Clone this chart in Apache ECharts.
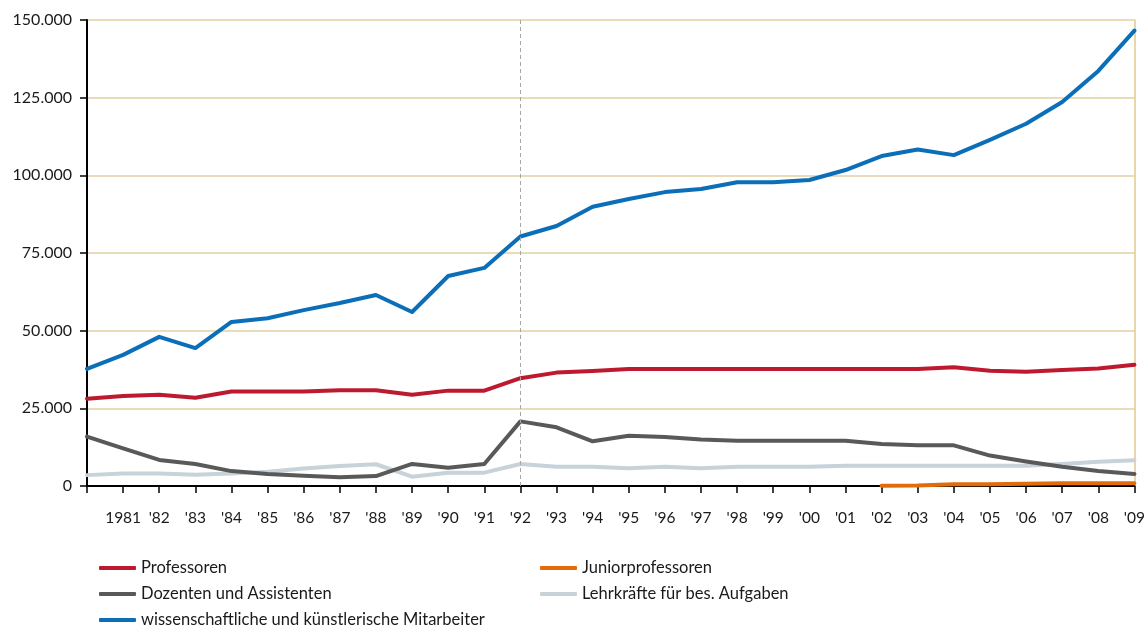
<!DOCTYPE html>
<html>
<head>
<meta charset="utf-8">
<script src="https://cdn.jsdelivr.net/npm/echarts@6/dist/echarts.min.js"></script>
<style>
  html, body { margin: 0; padding: 0; background: #fff; }
  #chart { width: 1148px; height: 630px; }
</style>
</head>
<body>
<div id="chart"></div>
<script>
var years = [1980,1981,1982,1983,1984,1985,1986,1987,1988,1989,1990,1991,1992,1993,1994,
             1995,1996,1997,1998,1999,2000,2001,2002,2003,2004,2005,2006,2007,2008,2009];
var tickLabels = ['', '1981', "'82", "'83", "'84", "'85", "'86", "'87", "'88", "'89", "'90", "'91", "'92", "'93", "'94",
                  "'95", "'96", "'97", "'98", "'99", "'00", "'01", "'02", "'03", "'04", "'05", "'06", "'07", "'08", "'09"];

var professoren = [28100,29000,29400,28400,30400,30400,30400,30800,30800,29400,30700,30700,34700,36500,37000,
                   37700,37700,37700,37700,37700,37700,37700,37700,37700,38200,37100,36800,37300,37800,39000];
var juniorprof  = [null,null,null,null,null,null,null,null,null,null,null,null,null,null,null,
                   null,null,null,null,null,null,null,100,200,600,600,700,900,900,900];
var dozenten    = [15900,12100,8400,7100,4800,3900,3300,2800,3200,7100,5900,7100,20800,18900,14400,
                   16200,15800,15000,14600,14600,14600,14600,13500,13100,13100,9800,7900,6200,4800,3900];
var lehrkraefte = [3500,4000,4000,3600,4000,4600,5600,6400,7000,3000,4300,4300,7100,6200,6200,
                   5700,6200,5700,6200,6200,6200,6500,6500,6500,6500,6500,6500,7100,7800,8300];
var mitarbeiter = [37700,42200,48000,44400,52800,54000,56600,58900,61500,56000,67600,70200,80300,83700,89900,
                   92400,94600,95600,97800,97800,98500,101700,106200,108300,106500,111400,116600,123600,133600,146600];

var names = ['Professoren', 'Juniorprofessoren', 'Dozenten und Assistenten',
             'Lehrkräfte für bes. Aufgaben', 'wissenschaftliche und künstlerische Mitarbeiter'];
var colors = ['#BE1A2F', '#E36C0A', '#595959', '#C8D2D9', '#0B6EB8'];
var yTicks = [0, 25000, 50000, 75000, 100000, 125000, 150000];

var font = 'Lato, "Open Sans", sans-serif';

function fmt(v) {
    return String(v).replace(/\B(?=(\d{3})+(?!\d))/g, '.');
}

function lineSeries(i, data) {
    return {
        name: names[i],
        type: 'line',
        data: data,
        symbol: 'none',
        connectNulls: false,
        lineStyle: { color: colors[i], width: 4, join: 'round', cap: 'round' },
        itemStyle: { color: colors[i] },
        z: 3
    };
}

var series = [
    lineSeries(3, lehrkraefte),
    lineSeries(2, dozenten),
    lineSeries(0, professoren),
    lineSeries(4, mitarbeiter),
    lineSeries(1, juniorprof)
];
// gestrichelte Linie bei 1992
series[0].markLine = {
    silent: true,
    symbol: ['none', 'none'],
    label: { show: false },
    lineStyle: { color: '#A6A6A6', type: [4, 3], width: 1 },
    data: [{ xAxis: 12 }]
};

var legendText = { fontFamily: font, fontSize: 16.5, color: '#1a1a1a', lineHeight: 18 };

var dom = document.getElementById('chart');
var myChart = echarts.init(dom);
var option = {
    animation: false,
    backgroundColor: '#fff',
    grid: { left: 87, right: 13, top: 20, bottom: 144, containLabel: false },
    legend: [
        {
            orient: 'vertical', left: 99, top: 559, itemGap: 8, padding: 0,
            icon: 'roundRect', itemWidth: 37, itemHeight: 4,
            textStyle: legendText,
            data: [names[0], names[2], names[4]]
        },
        {
            orient: 'vertical', left: 540, top: 559, itemGap: 8, padding: 0,
            icon: 'roundRect', itemWidth: 37, itemHeight: 4,
            textStyle: legendText,
            data: [names[1], names[3]]
        }
    ],
    xAxis: {
        type: 'category',
        boundaryGap: false,
        data: years,
        axisLine: { lineStyle: { color: '#000', width: 2 } },
        axisTick: { show: true, interval: 0, length: 7, lineStyle: { color: '#000', width: 1.5 } },
        axisLabel: {
            interval: 0, margin: 24,
            fontFamily: font, fontSize: 15.5, color: '#1a1a1a',
            formatter: function (v, idx) { return tickLabels[idx]; }
        },
        splitLine: { show: false }
    },
    yAxis: [
        {
            type: 'value',
            min: yTicks[0], max: yTicks[yTicks.length - 1], interval: 25000,
            axisLine: { show: true, lineStyle: { color: '#000', width: 2 } },
            axisTick: { show: true, length: 7, lineStyle: { color: '#000', width: 1.5 } },
            axisLabel: {
                margin: 15, fontFamily: font, fontSize: 16, color: '#1a1a1a',
                formatter: fmt
            },
            splitLine: { show: true, lineStyle: { color: '#E2D2A2', width: 1.5 } }
        },
        {
            type: 'value', position: 'right',
            min: yTicks[0], max: yTicks[yTicks.length - 1], interval: 25000,
            axisLine: { show: true, lineStyle: { color: '#E2C98C', width: 1.5 } },
            axisTick: { show: false },
            axisLabel: { show: false },
            splitLine: { show: false }
        }
    ],
    series: series
};
if (option && typeof option === 'object') {
    myChart.setOption(option, true);
}
</script>
</body>
</html>
